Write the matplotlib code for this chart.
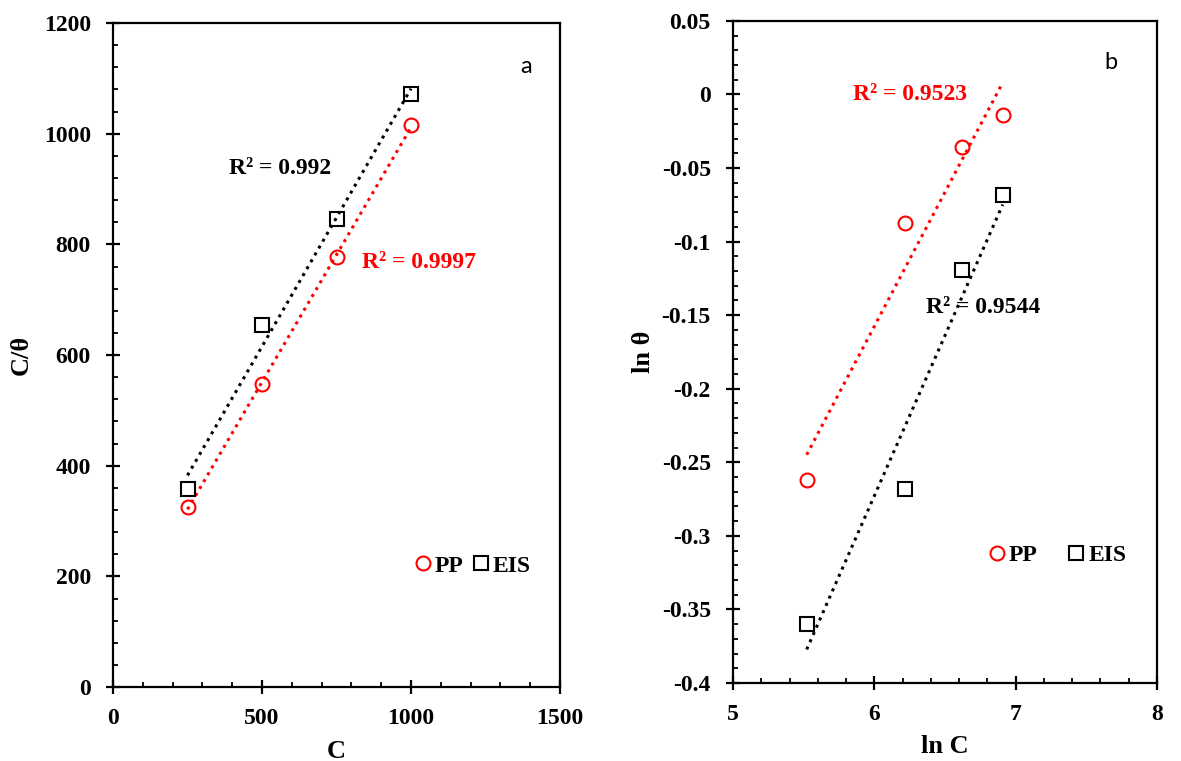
import matplotlib.pyplot as plt
import numpy as np
from matplotlib.ticker import MultipleLocator, FixedLocator, FixedFormatter

plt.rcParams['font.family'] = ['Liberation Serif', 'DejaVu Serif']
plt.rcParams['font.weight'] = 'bold'
plt.rcParams['axes.unicode_minus'] = False

# concentration and the adsorption data for the two methods
conc = [250, 500, 750, 1000]
c_theta_pp = [325, 547, 778, 1015]
c_theta_eis = [358, 654, 845, 1071]

ln_c = [5.521, 6.215, 6.620, 6.908]
ln_theta_pp = [-0.262, -0.0875, -0.036, -0.014]
ln_theta_eis = [-0.360, -0.268, -0.119, -0.0685]

r2_a = ['R² = 0.9997', 'R² = 0.992']
r2_b = ['R² = 0.9523', 'R² = 0.9544']

yticks_b = [0.05, 0, -0.05, -0.1, -0.15, -0.2, -0.25, -0.3, -0.35, -0.4]
ylabels_b = ['0.05', '0', '-0.05', '-0.1', '-0.15', '-0.2', '-0.25', '-0.3', '-0.35', '-0.4']

fs = 17
dots = (0, (1, 1.6))

fig = plt.figure(figsize=(11.81, 7.61), dpi=100)
ax1 = fig.add_axes([0.0957, 0.0972, 0.3785, 0.8725])
ax2 = fig.add_axes([0.6207, 0.1025, 0.359, 0.870])


def trend(ax, x, y, color):
    k, b = np.polyfit(x, y, 1)
    xs = np.array([min(x), max(x)])
    ax.plot(xs, k * xs + b, linestyle=dots, color=color, lw=2.2, zorder=2)


def style(ax):
    for s in ax.spines.values():
        s.set_linewidth(1.6)
    ax.tick_params(which='major', direction='inout', length=10, width=1.6,
                   labelsize=fs)
    ax.tick_params(axis='y', which='major', pad=11)
    ax.tick_params(axis='x', which='major', pad=10)
    ax.tick_params(which='minor', direction='in', length=3.6, width=1.3)
    for lab in ax.get_xticklabels() + ax.get_yticklabels():
        lab.set_fontweight('bold')


# panel a
trend(ax1, conc, c_theta_pp, 'red')
trend(ax1, conc, c_theta_eis, 'black')
ax1.plot(conc, c_theta_pp, 'o', ms=10, mfc='none', mec='red', mew=1.5, label='PP', zorder=3)
ax1.plot(conc, c_theta_eis, 's', ms=10, mfc='none', mec='black', mew=1.5, label='EIS', zorder=3)
ax1.set_xlim(0, 1500)
ax1.set_ylim(0, 1200)
ax1.xaxis.set_major_locator(MultipleLocator(500))
ax1.xaxis.set_minor_locator(MultipleLocator(100))
ax1.yaxis.set_major_locator(MultipleLocator(200))
ax1.yaxis.set_minor_locator(MultipleLocator(40))
style(ax1)
ax1.set_xlabel('C', fontsize=19, fontweight='bold', labelpad=8)
ax1.set_ylabel('C/θ', fontsize=19, fontweight='bold', labelpad=8)
ax1.text(836, 768, r2_a[0], color='red', fontsize=fs, fontweight='bold', va='center')
ax1.text(390, 938, r2_a[1], color='black', fontsize=fs, fontweight='bold', va='center')
ax1.text(1386, 1122, 'a', fontsize=17, family='Lato', fontweight='normal', ha='center', va='center')
ax1.legend(loc='center left', bbox_to_anchor=(0.648, 0.1825), ncol=2, frameon=False,
           handlelength=0.7, handletextpad=0.15, columnspacing=0.4, borderpad=0,
           prop={'size': fs, 'weight': 'bold'})

# panel b
trend(ax2, ln_c, ln_theta_pp, 'red')
trend(ax2, ln_c, ln_theta_eis, 'black')
ax2.plot(ln_c, ln_theta_pp, 'o', ms=10, mfc='none', mec='red', mew=1.5, label='PP', zorder=3)
ax2.plot(ln_c, ln_theta_eis, 's', ms=10, mfc='none', mec='black', mew=1.5, label='EIS', zorder=3)
ax2.set_xlim(5, 8)
ax2.set_ylim(-0.4, 0.05)
ax2.xaxis.set_major_locator(MultipleLocator(1))
ax2.xaxis.set_minor_locator(MultipleLocator(0.2))
ax2.yaxis.set_major_locator(FixedLocator(yticks_b))
ax2.yaxis.set_major_formatter(FixedFormatter(ylabels_b))
ax2.yaxis.set_minor_locator(MultipleLocator(0.01))
style(ax2)
ax2.set_xlabel('ln C', fontsize=19, fontweight='bold', labelpad=7)
ax2.set_ylabel('ln θ', fontsize=19, fontweight='bold', labelpad=4.5)
ax2.text(5.85, 0.0, r2_b[0], color='red', fontsize=fs, fontweight='bold', va='center')
ax2.text(6.366, -0.145, r2_b[1], color='black', fontsize=fs, fontweight='bold', va='center')
ax2.text(7.675, 0.0217, 'b', fontsize=17, family='Lato', fontweight='normal', ha='center', va='center')
ax2.legend(loc='center left', bbox_to_anchor=(0.575, 0.1925), ncol=2, frameon=False,
           handlelength=0.7, handletextpad=0.15, columnspacing=1.3, borderpad=0,
           prop={'size': fs, 'weight': 'bold'})

fig.savefig('out.png', dpi=100)
